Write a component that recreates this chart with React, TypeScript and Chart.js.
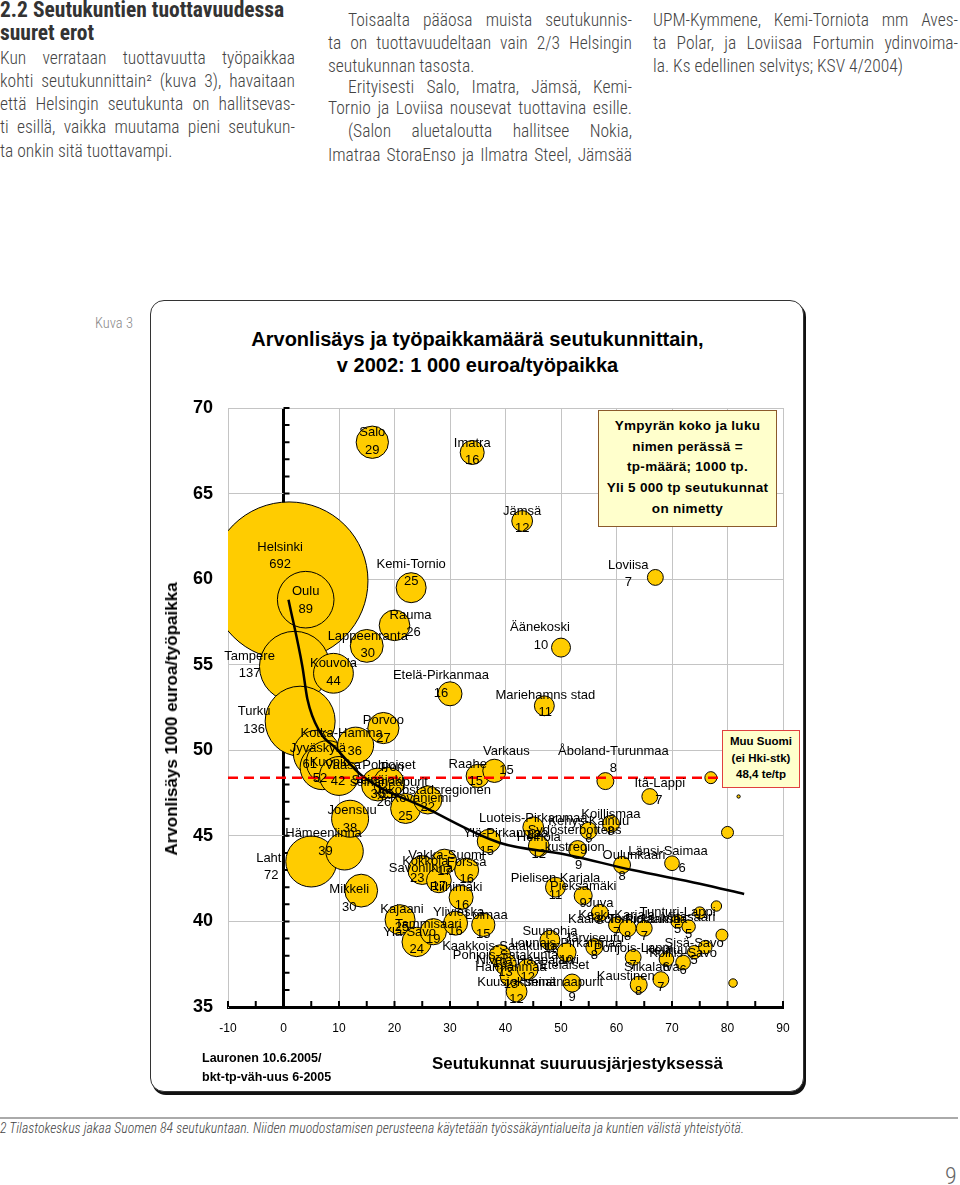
import React, { useEffect, useRef } from 'react';
import { Chart, registerables } from 'chart.js';

Chart.register(...registerables);

// ---------- DATA ----------
const regionNames = [
  'Helsinki', 'Tampere', 'Turku', 'Oulu', 'Lahti', 'Jyväskylä', 'Pori', 'Kuopio', 'Kouvola', 'Vaasa',
  'Hämeenlinna', 'Joensuu', 'Kotka-Hamina', 'Mikkeli', 'Lappeenranta', 'Salo', 'Seinäjoki', 'Porvoo', 'Pohjoiset\nseinänaapurit', 'Rauma',
  'Kajaani', 'Rovaniemi', 'Kemi-Tornio', 'Ylä-Savo', 'Kokkola', 'Jakobstadsregionen', 'Tammisaari', 'Savonlinna', 'Vakka-Suomi', 'Etelä-Pirkanmaa',
  'Ylivieska', 'Riihimäki', 'Forssa', 'Imatra', 'Raahe', 'Loimaa', 'Ylä-Pirkanmaa', 'Varkaus', 'Kaakkois-Satakunta', 'Pohjois-Satakunta',
  'Härmänmaa', 'Kuusiokunnat', 'Jämsä', 'Nivala-Haapajärvi', 'Luoteis-Pirkanmaa', 'Heinola', 'Mariehamns stad', 'Suupohja', 'Pielisen Karjala', 'Äänekoski',
  'Lounais-Pirkanmaa', 'Eteläiset\nseinänaapurit', 'Sydösterbottens\nkustregion', 'Pieksämäki', 'Kehys-Kainuu', 'Järviseutu', 'Juva', 'Åboland-Turunmaa', 'Koillismaa', 'Keski-Karjala',
  'Oulunkaari', 'Kaakkois-Pirkanmaa', 'Pohjois-Lappi', 'Kaustinen', 'Torniolaakso', 'Itä-Lappi', 'Loviisa', 'Siikalatva', 'Keuruu', 'Länsi-Saimaa',
  'Tunturi-Lappi', 'Koillis-Savo', 'Viitasaari', 'Sisä-Savo', '', '', '', '', '', '',
  '', '', '',
];
const sizeRank = [
  1, 2, 3, 4, 5, 6, 7, 8, 9, 10,
  11, 12, 13, 14, 15, 16, 17, 18, 19, 20,
  21, 22, 23, 24, 25, 26, 27, 28, 29, 30,
  31, 32, 33, 34, 35, 36, 37, 38, 39, 40,
  41, 42, 43, 44, 45, 46, 47, 48, 49, 50,
  51, 52, 53, 54, 55, 56, 57, 58, 59, 60,
  61, 62, 63, 64, 65, 66, 67, 68, 69, 70,
  71, 72, 73, 74, 75, 76, 77, 78, 79, 80,
  81, 82, 83,
];
const valueAddedPerJob = [
  59.9, 54.9, 51.7, 58.8, 43.5, 49.8, 49.0, 49.3, 54.5, 48.5,
  44.1, 46.0, 50.3, 41.8, 56.1, 68.0, 48.0, 51.3, 48.1, 57.3,
  40.1, 46.6, 59.5, 38.8, 43.0, 47.1, 39.4, 42.4, 43.5, 53.3,
  39.9, 41.4, 43.0, 67.4, 48.5, 39.8, 44.7, 48.8, 38.0, 37.5,
  36.8, 35.9, 63.4, 37.2, 45.5, 44.4, 52.6, 38.9, 42.0, 56.0,
  38.2, 36.4, 44.2, 41.5, 45.3, 38.5, 40.5, 48.2, 45.7, 39.8,
  43.3, 39.6, 37.9, 36.3, 39.6, 47.3, 60.1, 36.6, 37.8, 43.4,
  40.0, 37.6, 39.7, 38.2, 40.5, 38.5, 48.4, 40.9, 39.2, 45.2,
  36.4, 47.3, 48.4,
];
const jobsThousands = [
  692, 137, 136, 89, 72, 61, 55, 52, 44, 42,
  39, 38, 36, 30, 30, 29, 30, 27, 26, 26,
  25, 25, 25, 24, 23, 22, 19, 17, 17, 16,
  16, 16, 16, 16, 15, 15, 15, 15, 13, 13,
  13, 12, 12, 12, 12, 12, 11, 11, 11, 10,
  10, 9, 9, 9, 8, 8, 8, 8, 8, 7,
  8, 8, 7, 8, 7, 7, 7, 7, 6, 6,
  5, 6, 5, 5, 4, 5, 4, 3, 4, 4,
  2, 0.3, 3,
];
// logarithmic trend line
const trendX = [0.9, 3.4, 4.3, 6.5, 9.5, 14.2, 25.8, 38.9, 51, 62.9, 75, 83];
const trendY = [58.8, 54.9, 53.0, 51.1, 50.1, 48.5, 46.6, 44.6, 43.9, 43.0, 42.2, 41.6];
// average of the rest of Finland (excluding Helsinki region)
const restOfFinlandAvg = 48.4;
const avgLineX = [-10, 79];
const xAxisRange = [-10, 90];
const yAxisRange = [35, 70];

// label placement relative to the bubble centre: [nameDx, nameDy, numDx, numDy]
const labelPlacement: Record<string, number[]> = {
  'Helsinki': [-9, -33, -9, -16],
  'Tampere': [-45, -10, -45, 7],
  'Turku': [-46, -10, -46, 8],
  'Oulu': [0, -8, 0, 10],
  'Lahti': [-41, -3, -40, 14],
  'Jyväskylä': [1, -5, -7, 11],
  'Pori': [70, 0, 64, 27],
  'Kuopio': [2, 0, -8, 16],
  'Kouvola': [0, -10, 0, 8],
  'Vaasa': [4, -11, -1, 5],
  'Hämeenlinna': [-21, -18, -19, 0],
  'Joensuu': [2, -8, 0, 10],
  'Kotka-Hamina': [-14, -12, -1, 6],
  'Mikkeli': [-12, -1, -12, 17],
  'Lappeenranta': [1, -9, 1, 8],
  'Salo': [0, -10, 0, 8],
  'Seinäjoki': [0, -4, 0, 10],
  'Porvoo': [0, -8, 0, 10],
  'Pohjoiset\nseinänaapurit': [0, -17, -5, 20],
  'Rauma': [16, -10, 19, 7],
  'Kajaani': [2, -10, 2, 8],
  'Rovaniemi': [15, -10, 0, 8],
  'Kemi-Tornio': [0, -23, 0, -6],
  'Ylä-Savo': [-7, -10, 0, 7],
  'Kokkola': [3, -9, -5, 8],
  'Jakobstadsregionen': [5, -9, 0, 8],
  'Tammisaari': [-5, -7, 0, 8],
  'Savonlinna': [-18, -12, 0, 6],
  'Vakka-Suomi': [2, -6, 0, 10],
  'Etelä-Pirkanmaa': [-9, -18, -9, 0],
  'Ylivieska': [3, -11, 0, 8],
  'Riihimäki': [-5, -10, 1, 8],
  'Forssa': [0, -8, 0, 9],
  'Imatra': [0, -9, 0, 8],
  'Raahe': [-10, -12, -2, 5],
  'Loimaa': [3, -9, 0, 10],
  'Ylä-Pirkanmaa': [17, -8, -2, 10],
  'Varkaus': [12, -19, 12, 0],
  'Mariehamns stad': [1, -10, 1, 7],
  'Äänekoski': [-21, -20, -20, -2],
  'Jämsä': [0, -10, 0, 7],
  'Loviisa': [-27, -12, -27, 5],
  'Åboland-Turunmaa': [8, -30, 8, -13],
  'Itä-Lappi': [10, -13, 9, 4],
  'Länsi-Saimaa': [-4, -12, 10, 5],
  'Oulunkaari': [12, -10, 0, 11],
  'Eteläiset\nseinänaapurit': [-8, -18, 0, 14],
  'Sydösterbottens\nkustregion': [-3, -19, 1, 16],
  'Kaustinen': [-13, -8, 0, 7],
  'Siikalatva': [-9, -12, 0, 8],
};

const CHART_FONT = '"Liberation Sans", Arial, sans-serif';
const TEXT_FONT = '"Liberation Sans Narrow", "Roboto Condensed", "DejaVu Sans Condensed", sans-serif';

const decorPlugin = {
  id: 'decor',
  beforeDatasetsDraw(chart: any) {
    const { ctx, scales } = chart;
    const xs = scales.x;
    const ys = scales.y;
    const x0 = xs.getPixelForValue(0);
    ctx.save();
    ctx.strokeStyle = '#000';
    ctx.lineWidth = 2;
    ctx.beginPath();
    for (let v = yAxisRange[0]; v <= yAxisRange[1]; v++) {
      const py = ys.getPixelForValue(v);
      ctx.moveTo(x0, py);
      ctx.lineTo(x0 + 6, py);
    }
    const yb = ys.getPixelForValue(yAxisRange[0]);
    for (let v = xAxisRange[0]; v <= xAxisRange[1]; v += 5) {
      const px = xs.getPixelForValue(v);
      ctx.moveTo(px, yb);
      ctx.lineTo(px, yb - 6);
    }
    ctx.stroke();
    ctx.restore();
  },
  afterDatasetsDraw(chart: any) {
    const { ctx } = chart;
    const meta = chart.getDatasetMeta(2);
    ctx.save();
    ctx.font = `13px ${CHART_FONT}`;
    ctx.fillStyle = '#000';
    ctx.textAlign = 'center';
    ctx.textBaseline = 'middle';
    meta.data.forEach((el: any, i: number) => {
      const name = regionNames[i];
      if (!name) return;
      const p = labelPlacement[name] || [0, -9, 0, 8];
      const lines = name.split('\n');
      lines.forEach((ln, k) => {
        ctx.fillText(ln, el.x + p[0], el.y + p[1] + k * 17);
      });
      ctx.fillText(String(Math.round(jobsThousands[i])), el.x + p[2], el.y + p[3]);
    });
    ctx.restore();
  },
};

function BubbleChart() {
  const ref = useRef<HTMLCanvasElement>(null);
  useEffect(() => {
    if (!ref.current) return;
    const bubbles = sizeRank.map((x, i) => ({ x, y: valueAddedPerJob[i], r: 3 * Math.sqrt(jobsThousands[i]) }));
    const trend = trendX.map((x, i) => ({ x, y: trendY[i] }));
    const avg = avgLineX.map((x) => ({ x, y: restOfFinlandAvg }));
    const chart = new Chart(ref.current, {
      type: 'bubble',
      data: {
        datasets: [
          {
            type: 'line',
            data: avg,
            borderColor: '#ff0000',
            borderWidth: 2.5,
            borderDash: [10, 6],
            pointRadius: 0,
            order: 0,
          } as any,
          {
            type: 'line',
            data: trend,
            borderColor: '#000',
            borderWidth: 2.5,
            pointRadius: 0,
            tension: 0.4,
            cubicInterpolationMode: 'monotone',
            order: 1,
          } as any,
          {
            type: 'bubble',
            data: bubbles,
            backgroundColor: '#FFCC00',
            borderColor: '#000',
            borderWidth: 1,
            clip: 0,
            order: 2,
          } as any,
        ],
      },
      options: {
        responsive: false,
        animation: false,
        events: [],
        layout: { autoPadding: false, padding: { left: 0, right: 22, top: 28, bottom: 13 } },
        plugins: { legend: { display: false }, tooltip: { enabled: false }, title: { display: false } },
        scales: {
          x: {
            type: 'linear',
            min: xAxisRange[0],
            max: xAxisRange[1],
            ticks: { stepSize: 10, color: '#000', font: { size: 12, family: CHART_FONT }, padding: 14 },
            grid: {
              drawTicks: false,
              color: (c: any) => (c.tick && c.tick.value === 0 ? '#000' : '#c4c4c4'),
              lineWidth: (c: any) => (c.tick && c.tick.value === 0 ? 3 : 1),
            },
            border: { display: true, color: '#000', width: 3 },
            afterFit: (s: any) => { s.height = 40; },
          },
          y: {
            type: 'linear',
            min: yAxisRange[0],
            max: yAxisRange[1],
            ticks: { stepSize: 5, color: '#000', font: { size: 18, weight: 'bold', family: CHART_FONT }, padding: 15 },
            grid: { drawTicks: false, color: '#c4c4c4', lineWidth: 1 },
            border: { display: true, color: '#c4c4c4', width: 1 },
            afterFit: (s: any) => { s.width = 78; },
          },
        },
      } as any,
      plugins: [decorPlugin],
    });
    return () => chart.destroy();
  }, []);
  return <canvas ref={ref} width={655} height={680} style={{ position: 'absolute', left: 150, top: 380 }} />;
}

type Line = { text: string; top: number; left: number; width: number; justify?: boolean };

const bodyLines: Line[] = [
  { text: 'Kun verrataan tuottavuutta työpaikkaa', top: 58, left: 0, width: 295, justify: true },
  { text: 'kohti seutukunnittain² (kuva 3), havaitaan', top: 81, left: 0, width: 295, justify: true },
  { text: 'että Helsingin seutukunta on hallitsevas-', top: 104, left: 0, width: 295, justify: true },
  { text: 'ti esillä, vaikka muutama pieni seutukun-', top: 127, left: 0, width: 295, justify: true },
  { text: 'ta onkin sitä tuottavampi.', top: 151, left: 0, width: 295 },
  { text: 'Toisaalta pääosa muista seutukunnis-', top: 20, left: 348, width: 284, justify: true },
  { text: 'ta on tuottavuudeltaan vain 2/3 Helsingin', top: 43, left: 328, width: 304, justify: true },
  { text: 'seutukunnan tasosta.', top: 66, left: 328, width: 304 },
  { text: 'Erityisesti Salo, Imatra, Jämsä, Kemi-', top: 87, left: 348, width: 284, justify: true },
  { text: 'Tornio ja Loviisa nousevat tuottavina esille.', top: 108, left: 328, width: 304, justify: true },
  { text: '(Salon aluetaloutta hallitsee Nokia,', top: 131, left: 348, width: 284, justify: true },
  { text: 'Imatraa StoraEnso ja Ilmatra Steel, Jämsää', top: 155, left: 328, width: 304, justify: true },
  { text: 'UPM-Kymmene, Kemi-Torniota mm Aves-', top: 20, left: 653, width: 305, justify: true },
  { text: 'ta Polar, ja Loviisaa Fortumin ydinvoima-', top: 43, left: 653, width: 305, justify: true },
  { text: 'la. Ks edellinen selvitys; KSV 4/2004)', top: 66, left: 653, width: 305 },
];

export default function App() {
  useEffect(() => {
    document.body.style.margin = '0';
  }, []);
  const abs = (s: React.CSSProperties): React.CSSProperties => ({ position: 'absolute', whiteSpace: 'nowrap', ...s });
  const chartText = { fontFamily: CHART_FONT, color: '#000', fontWeight: 700 as const };
  return (
    <div style={{ position: 'relative', width: 960, height: 1185, background: '#fff', overflow: 'hidden' }}>
      <div style={abs({ left: 0, top: -2, fontFamily: TEXT_FONT, fontWeight: 700, fontSize: 21.5, lineHeight: '23px', color: '#333' })}>
        2.2 Seutukuntien tuottavuudessa<br />suuret erot
      </div>
      {bodyLines.map((l, i) => (
        <div
          key={i}
          style={abs({
            left: l.left, top: l.top - 11.5, width: l.width, height: 23, lineHeight: '23px',
            fontFamily: TEXT_FONT, fontSize: 17.5, fontWeight: 300, color: '#444',
            textAlign: l.justify ? 'justify' : 'left', textAlignLast: l.justify ? 'justify' : 'left',
          } as any)}
        >
          {l.text}
        </div>
      ))}
      <div style={abs({ left: 95, top: 315, fontFamily: TEXT_FONT, fontSize: 14.5, fontWeight: 300, color: '#8a8a8a' })}>Kuva 3</div>

      {/* chart frame */}
      <div style={abs({ left: 150, top: 300, width: 652, height: 790, border: '1.5px solid #333', borderRadius: 14, boxShadow: '2px 3px 0 #111', background: '#fff' })} />

      <div style={abs({ left: 150, top: 326, width: 655, textAlign: 'center', fontSize: 20, lineHeight: '26px', ...chartText })}>
        Arvonlisäys ja työpaikkamäärä seutukunnittain,<br />v 2002: 1 000 euroa/työpaikka
      </div>

      <BubbleChart />

      <div style={abs({ left: 172, top: 719, transform: 'translate(-50%, -50%) rotate(-90deg)', fontSize: 17, ...chartText })}>
        Arvonlisäys 1000 euroa/työpaikka
      </div>
      <div style={abs({ left: 432, top: 1054, fontSize: 17, ...chartText })}>Seutukunnat suuruusjärjestyksessä</div>
      <div style={abs({ left: 202, top: 1049, fontSize: 12.5, lineHeight: '19px', ...chartText })}>
        Lauronen 10.6.2005/<br />bkt-tp-väh-uus 6-2005
      </div>

      {/* legend note */}
      <div style={abs({ left: 598, top: 410, width: 177, height: 110, background: '#FFFFCC', border: '1.5px solid #8B5A2B', textAlign: 'center', fontSize: 13.5, lineHeight: '20.7px', paddingTop: 5, letterSpacing: 0.3, ...chartText })}>
        Ympyrän koko ja luku<br />nimen perässä =<br />tp-määrä; 1000 tp.<br />Yli 5 000 tp seutukunnat<br />on nimetty
      </div>
      <div style={abs({ left: 722, top: 730, width: 76, height: 54, background: '#FFFFCC', border: '1.5px solid #e04040', textAlign: 'center', fontSize: 11.5, lineHeight: '16.5px', paddingTop: 2, ...chartText })}>
        Muu Suomi<br />(ei Hki-stk)<br />48,4 te/tp
      </div>

      {/* footer */}
      <div style={abs({ left: 0, top: 1117, width: 958, height: 2, background: '#aaa' })} />
      <div style={abs({ left: 0, top: 1120, fontFamily: TEXT_FONT, fontStyle: 'italic', fontWeight: 300, fontSize: 13.8, color: '#444' })}>
        2 Tilastokeskus jakaa Suomen 84 seutukuntaan. Niiden muodostamisen perusteena käytetään työssäkäyntialueita ja kuntien välistä yhteistyötä.
      </div>
      <div style={abs({ left: 945, top: 1162, fontFamily: TEXT_FONT, fontSize: 24, fontWeight: 300, color: '#666' })}>9</div>
    </div>
  );
}
